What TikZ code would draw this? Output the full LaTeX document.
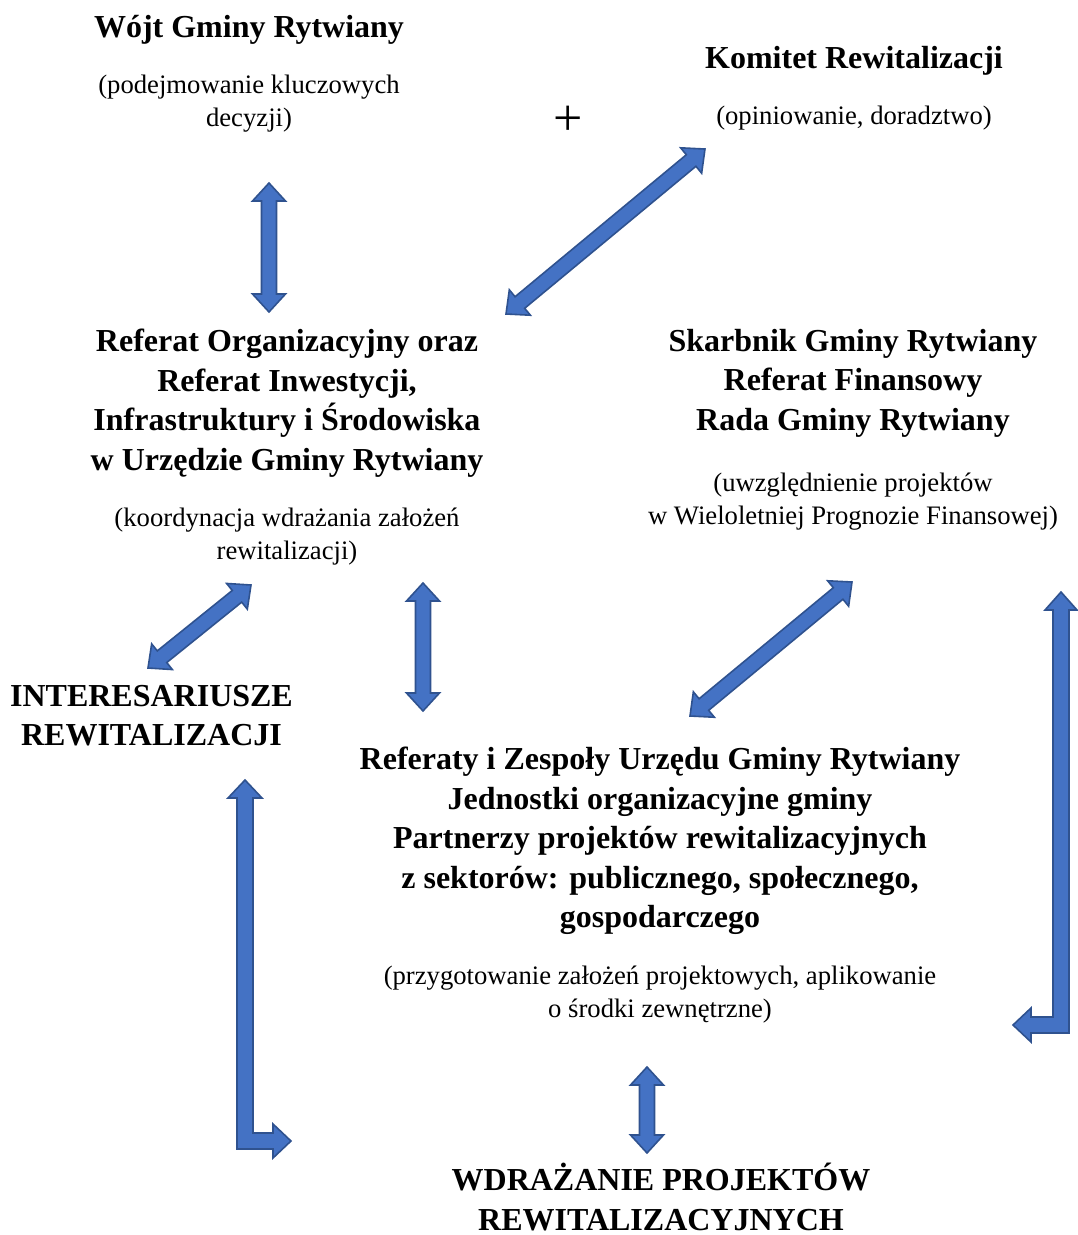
\documentclass[tikz,border=0pt]{standalone}
\usepackage{fontspec}
\setmainfont{Liberation Serif}
\usetikzlibrary{calc}
\definecolor{abfill}{HTML}{4472C4}
\definecolor{abline}{HTML}{2F528F}
\newdimen\baX \newdimen\baY \newdimen\bbX \newdimen\bbY
\tikzset{
  barrow/.style={fill=abfill, draw=abline, line width=1.6pt, line join=miter},
  title/.style={font=\bfseries\fontsize{32pt}{39.5pt}\selectfont, align=center, inner sep=0pt, anchor=north, execute at begin node={\rule{0pt}{30pt}}},
  sub/.style={font=\fontsize{26.67pt}{33pt}\selectfont, align=center, inner sep=0pt, anchor=north, execute at begin node={\rule{0pt}{25pt}}},
}
% double-headed block arrow between two named coordinates
\newcommand\blockarrow[2]{%
  \pgfextractx{\baX}{\pgfpointanchor{#1}{center}}%
  \pgfextracty{\baY}{\pgfpointanchor{#1}{center}}%
  \pgfextractx{\bbX}{\pgfpointanchor{#2}{center}}%
  \pgfextracty{\bbY}{\pgfpointanchor{#2}{center}}%
  \pgfmathsetmacro\baAng{atan2(\bbY-\baY,\bbX-\baX)}%
  \pgfmathsetmacro\baLen{veclen(\bbX-\baX,\bbY-\baY)}%
  \begin{scope}[shift={(#1)},rotate=\baAng]
    \draw[barrow] (0,0) -- (18,16.5) -- (18,7.5) -- (\baLen-18,7.5) -- (\baLen-18,16.5) -- (\baLen,0)
      -- (\baLen-18,-16.5) -- (\baLen-18,-7.5) -- (18,-7.5) -- (18,-16.5) -- cycle;
  \end{scope}}
\begin{document}
\begin{tikzpicture}[x=1pt,y=-1pt]
\useasboundingbox (0,0) rectangle (1077,1235);
% texts
\node[title] (wojt) at (249,7) {Wójt Gminy Rytwiany};
\node[sub] (wojtsub) at (249,75) {(podejmowanie kluczowych\\decyzji)};
\node[font=\fontsize{52pt}{52pt}\selectfont, inner sep=0pt] (plus) at (568,121) {+};
\node[title] (komitet) at (854,38) {Komitet Rewitalizacji};
\node[sub] (komsub) at (854,99) {(opiniowanie, doradztwo)};
\node[title] (referat) at (287,329) {Referat Organizacyjny oraz\\Referat Inwestycji,\\Infrastruktury i Środowiska\\w Urzędzie Gminy Rytwiany};
\node[sub] (refsub) at (287,508) {(koordynacja wdrażania założeń\\rewitalizacji)};
\node[title] (skarbnik) at (853,329) {Skarbnik Gminy Rytwiany\\Referat Finansowy\\Rada Gminy Rytwiany};
\node[sub] (skarbsub) at (853,473) {(uwzględnienie projektów\\w Wieloletniej Prognozie Finansowej)};
\node[title] (inter) at (151.5,685) {INTERESARIUSZE\\REWITALIZACJI};
\node[title] (referaty) at (660,747) {Referaty i Zespoły Urzędu Gminy Rytwiany\\Jednostki organizacyjne gminy\\Partnerzy projektów rewitalizacyjnych\\z sektorów: publicznego, społecznego,\\gospodarczego};
\node[sub] (refatysub) at (660,966) {(przygotowanie założeń projektowych, aplikowanie\\o środki zewnętrzne)};
\node[title] (wdr) at (661,1163) {WDRAŻANIE PROJEKTÓW\\REWITALIZACYJNYCH};
% arrow end points
\coordinate (a1s) at (269,312); \coordinate (a1e) at (269,183);
\coordinate (a2s) at (506,314); \coordinate (a2e) at (705,149);
\coordinate (a3s) at (148,668); \coordinate (a3e) at (251,585);
\coordinate (a4s) at (423,711); \coordinate (a4e) at (423,583);
\coordinate (a5s) at (690,716); \coordinate (a5e) at (852,582);
\coordinate (a8s) at (647,1153); \coordinate (a8e) at (647,1067);
\blockarrow{a1s}{a1e}
\blockarrow{a2s}{a2e}
\blockarrow{a3s}{a3e}
\blockarrow{a4s}{a4e}
\blockarrow{a5s}{a5e}
\blockarrow{a8s}{a8e}
% right L-shaped arrow
\draw[barrow] (1061,592) -- (1077,610) -- (1069,610) -- (1069,1033) -- (1031,1033) -- (1031,1042)
  -- (1013,1025) -- (1031,1008) -- (1031,1017) -- (1053,1017) -- (1053,610) -- (1045,610) -- cycle;
% left L-shaped arrow
\draw[barrow] (245,780) -- (262,798) -- (253,798) -- (253,1133) -- (273,1133) -- (273,1124)
  -- (291,1141) -- (273,1158) -- (273,1149) -- (237,1149) -- (237,798) -- (228,798) -- cycle;
\end{tikzpicture}
\end{document}
